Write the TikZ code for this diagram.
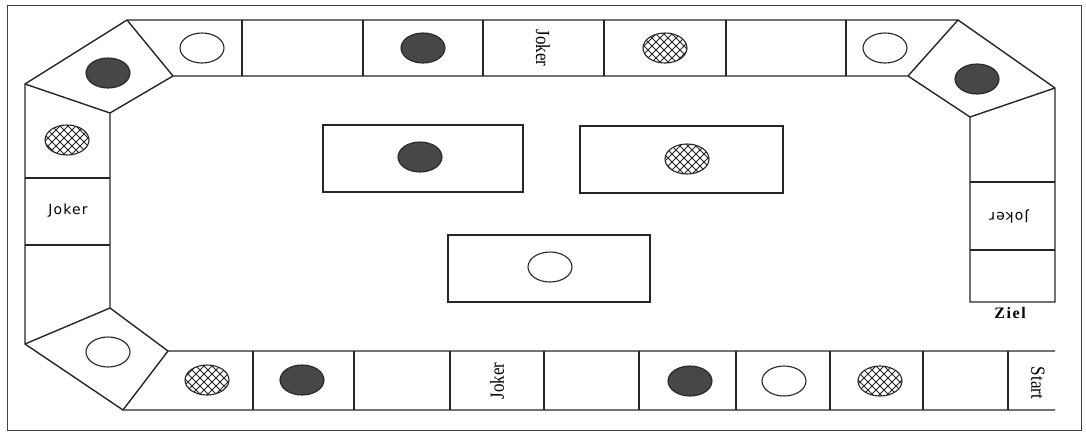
\documentclass[tikz,border=0pt]{standalone}
\usepackage{fontspec}
\setmainfont{Liberation Serif}
\newfontfamily\schmal[FakeStretch=0.85]{Liberation Serif}
\newfontfamily\breit[LetterSpace=8]{DejaVu Sans}
\newfontfamily\zielfont[LetterSpace=10]{Liberation Serif}
\usepackage{tikz}
\usetikzlibrary{shapes.geometric,patterns}

\pgfdeclarepatternformonly{rauten}{\pgfqpoint{-1pt}{-1pt}}{\pgfqpoint{9pt}{9pt}}{\pgfqpoint{8pt}{8pt}}{
  \pgfsetlinewidth{0.8pt}
  \pgfpathmoveto{\pgfqpoint{0pt}{0pt}}\pgfpathlineto{\pgfqpoint{8pt}{8pt}}
  \pgfpathmoveto{\pgfqpoint{0pt}{8pt}}\pgfpathlineto{\pgfqpoint{8pt}{0pt}}
  \pgfusepath{stroke}}

\tikzset{
  feld/.style={line width=1.4pt, draw=black!85, line join=miter},
  kreis/.style={ellipse, draw=black!85, line width=1.1pt, minimum width=44pt, minimum height=30pt, inner sep=0pt},
  dunkel/.style={kreis, fill=black!72},
  leer/.style={kreis, fill=white},
  netz/.style={kreis, pattern=rauten, pattern color=black!85},
  schrift/.style={font=\schmal\fontsize{20}{24}\selectfont, inner sep=0pt},
  seitlich/.style={font=\breit\fontsize{14}{17}\selectfont, inner sep=0pt}
}

\begin{document}
\begin{tikzpicture}[x=1pt, y=-1pt]
  \useasboundingbox (0,0) rectangle (1086,434);
  \draw[line width=1pt, black!75] (7,5) rectangle (1081,430);

  % Spielbahn
  \draw[feld] (127,20) -- (958,20) -- (1055,88) -- (1055,302) -- (970,302) -- (970,117)
    -- (908,76) -- (173,76) -- (110,113) -- (110,308) -- (168,351) -- (1055,351);
  \draw[feld] (1055,410) -- (123,410) -- (25,344) -- (25,84) -- (127,20);
  \draw[feld] (127,20) -- (173,76);
  \draw[feld] (25,84) -- (110,113);
  \draw[feld] (958,20) -- (908,76);
  \draw[feld] (1055,88) -- (970,117);
  \draw[feld] (25,344) -- (110,308);
  \draw[feld] (123,410) -- (168,351);

  % Felder oben, links, rechts, unten
  \foreach \x in {242,363,483,604,726,846}
    \draw[feld] (\x,20) -- (\x,76);
  \foreach \y in {178,245}
    \draw[feld] (25,\y) -- (110,\y);
  \foreach \y in {182,250}
    \draw[feld] (970,\y) -- (1055,\y);
  \foreach \x in {253,354,450,544,639,736,830,923,1008}
    \draw[feld] (\x,351) -- (\x,410);

  % Mitte
  \draw[feld] (323,125) rectangle (523,192);
  \draw[feld] (580,126) rectangle (783,193);
  \draw[feld] (448,235) rectangle (650,302);

  % Kreise
  \node[dunkel] (eckeOL) at (108,73) {};
  \node[leer] (oben1) at (202,48) {};
  \node[dunkel] (oben3) at (423,48) {};
  \node[netz] (oben5) at (665,48) {};
  \node[leer] (oben7) at (885,48) {};
  \node[dunkel] (eckeOR) at (977,79) {};
  \node[netz] (links1) at (67,140) {};
  \node[leer] (eckeUL) at (108,352) {};
  \node[netz] (unten1) at (207,380) {};
  \node[dunkel] (unten2) at (302,380) {};
  \node[dunkel] (unten6) at (690,381) {};
  \node[leer] (unten7) at (784,381) {};
  \node[netz] (unten8) at (880,381) {};
  \node[dunkel] (mitte1) at (420,157) {};
  \node[netz] (mitte2) at (687,159) {};
  \node[leer] (mitte3) at (550,267) {};

  % Beschriftung
  \node[schrift, rotate=-90] (jokerO) at (543,48) {Joker};
  \node[schrift, rotate=90] (jokerU) at (497,381) {Joker};
  \node[schrift, rotate=-90] (start) at (1038,383) {Start};
  \node[seitlich] (jokerL) at (68,211) {Joker};
  \node[seitlich, rotate=180] (jokerR) at (1009,216) {Joker};
  \node[font=\zielfont\bfseries\fontsize{16}{19}\selectfont, inner sep=0pt] (ziel) at (1010,313) {Ziel};
\end{tikzpicture}
\end{document}
